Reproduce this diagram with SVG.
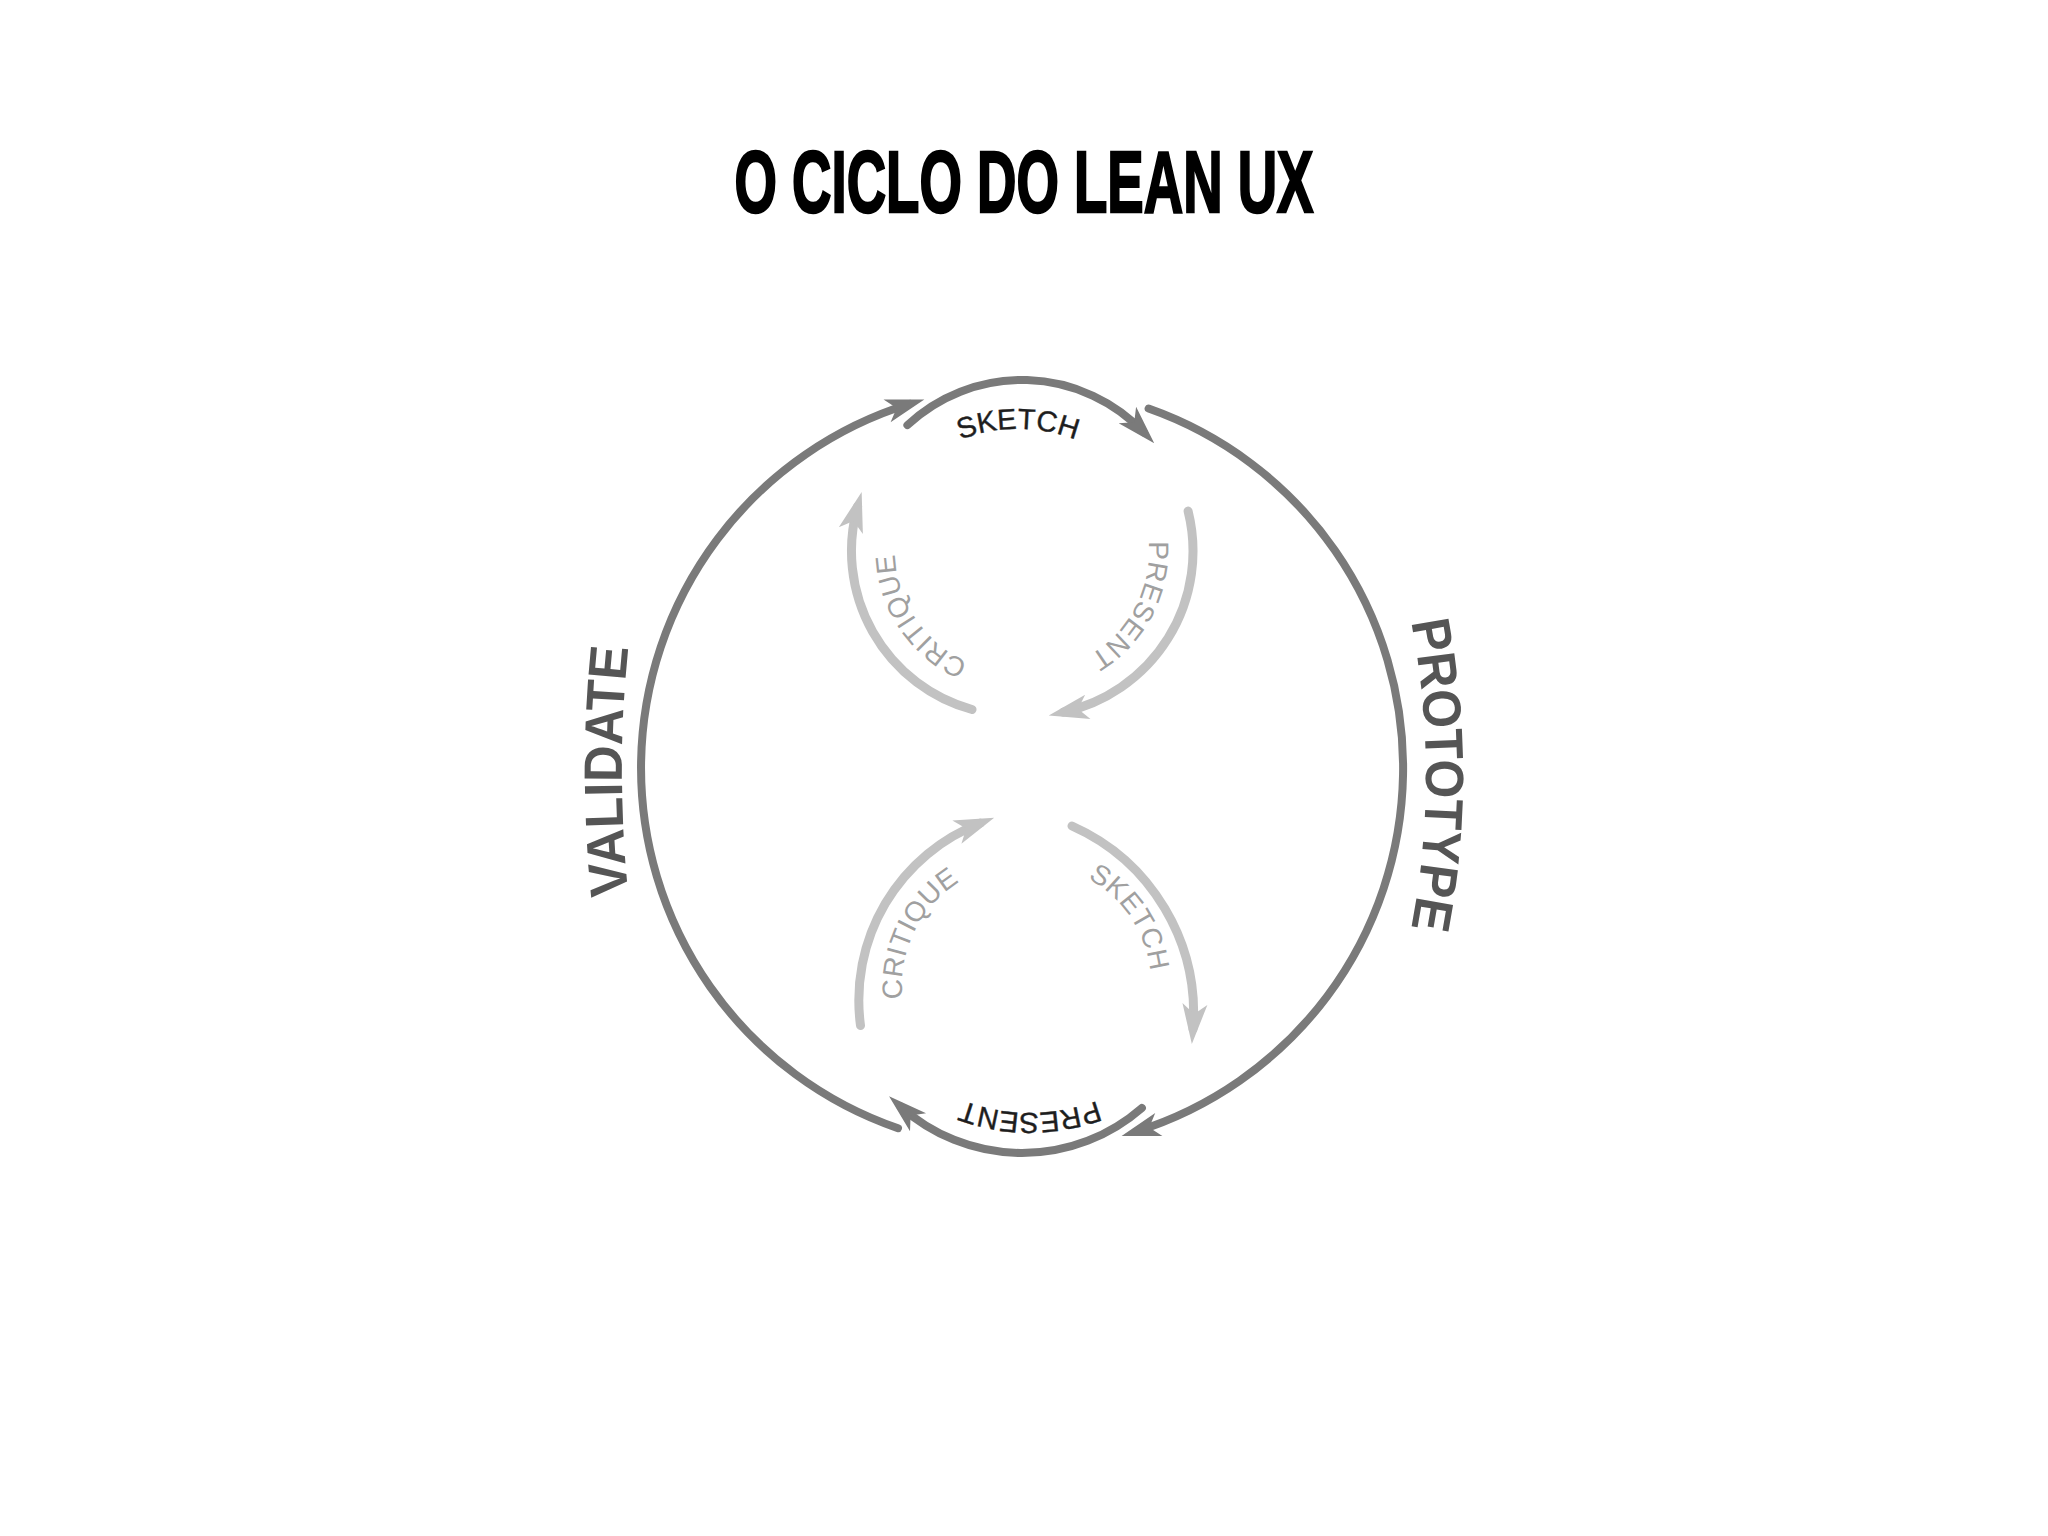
<svg xmlns="http://www.w3.org/2000/svg" width="2048" height="1536" viewBox="0 0 2048 1536">
<style>
.dark{fill:none;stroke:#7a7a7a;stroke-width:8;stroke-linecap:round}
.light{fill:none;stroke:#c2c2c2;stroke-width:9;stroke-linecap:round}
.tdark{font-family:"Liberation Sans",Arial,sans-serif;font-size:29px;fill:#1e1e1e;stroke:#1e1e1e;stroke-width:0.4}
.tlight{font-family:"Liberation Sans",Arial,sans-serif;font-size:28px;fill:#a0a0a0;letter-spacing:0.5px}
.tbig{font-family:"Liberation Sans",Arial,sans-serif;font-size:54px;font-weight:bold;fill:#555555}
.title{font-family:"Liberation Sans",Arial,sans-serif;font-size:88px;font-weight:bold;fill:#000;stroke:#000;stroke-width:2.5}
</style>
<defs>
<marker id="ad" markerUnits="userSpaceOnUse" viewBox="-30 -20 60 40" markerWidth="60" markerHeight="40" refX="0" refY="0" orient="auto" overflow="visible">
<path d="M15,0 L-24,-12 L-14,0 L-24,12 Z" fill="#7a7a7a"/>
</marker>
<marker id="al" markerUnits="userSpaceOnUse" viewBox="-30 -20 60 40" markerWidth="60" markerHeight="40" refX="0" refY="0" orient="auto" overflow="visible">
<path d="M15,0 L-25,-12.5 L-15,0 L-25,12.5 Z" fill="#c2c2c2"/>
</marker>
<path id="pSketchTop" d="M894.7,486.5 A161,161 0 0 1 1141.3,486.5"/>
<path id="pPresentBot" d="M1175.5,1045.1 A190,190 0 0 1 884.5,1045.1"/>
<path id="pPresentIn" d="M1130.2,486.2 A121,121 0 0 1 1033.1,671.9"/>
<path id="pCritiqueTop" d="M1024.4,671.7 A121,121 0 0 1 907.2,498.0"/>
<path id="pCritiqueBot" d="M922.7,1052.7 A121,121 0 0 1 1014.6,864.3"/>
<path id="pSketchIn" d="M1021.6,864.3 A121,121 0 0 1 1138.8,1038.0"/>
<path id="pValidate" d="M640.2,979.4 A1200,1200 0 0 1 640.2,562.6"/>
<path id="pPrototype" d="M1398.7,567.9 A800,800 0 0 1 1398.7,982.1"/>
</defs>
<rect width="2048" height="1536" fill="#ffffff"/>
<g id="title">
<text class="title" x="1024" y="212" text-anchor="middle" textLength="579" lengthAdjust="spacingAndGlyphs">O CICLO DO LEAN UX</text>
</g>
<g id="connectors">
<path class="dark" d="M898.0,1128.2 A381,381 0 0 1 910.0,403.8" marker-end="url(#ad)"/>
<path class="dark" d="M907.4,425.1 A168,168 0 0 1 1143.9,432.4" marker-end="url(#ad)"/>
<path class="dark" d="M1148.6,408.6 A381,381 0 0 1 1135.9,1131.6" marker-end="url(#ad)"/>
<path class="dark" d="M1141.9,1107.9 A182,182 0 0 1 900.2,1106.2" marker-end="url(#ad)"/>
<path class="light" d="M972.0,709.5 A164.5,164.5 0 0 1 857.6,506.5" marker-end="url(#al)"/>
<path class="light" d="M1188.1,511.1 A165,165 0 0 1 1063.4,712.2" marker-end="url(#al)"/>
<path class="light" d="M860.5,1025.5 A190,190 0 0 1 980.2,823.1" marker-end="url(#al)"/>
<path class="light" d="M1072,826 A205,205 0 0 1 1193,1029" marker-end="url(#al)"/>
</g>
<g id="validate"><text class="tbig"><textPath href="#pValidate" startOffset="50%" text-anchor="middle" textLength="248" lengthAdjust="spacingAndGlyphs">VALIDATE</textPath></text></g>
<g id="prototype"><text class="tbig"><textPath href="#pPrototype" startOffset="50%" text-anchor="middle" textLength="308" lengthAdjust="spacingAndGlyphs">PROTOTYPE</textPath></text></g>
<g id="sketch-outer"><text class="tdark"><textPath href="#pSketchTop" startOffset="50%" text-anchor="middle">SKETCH</textPath></text></g>
<g id="present-outer"><text class="tdark"><textPath href="#pPresentBot" startOffset="50%" text-anchor="middle">PRESENT</textPath></text></g>
<g id="present-inner"><text class="tlight"><textPath href="#pPresentIn" startOffset="50%" text-anchor="middle">PRESENT</textPath></text></g>
<g id="critique-top"><text class="tlight"><textPath href="#pCritiqueTop" startOffset="50%" text-anchor="middle">CRITIQUE</textPath></text></g>
<g id="critique-bottom"><text class="tlight"><textPath href="#pCritiqueBot" startOffset="50%" text-anchor="middle">CRITIQUE</textPath></text></g>
<g id="sketch-inner"><text class="tlight"><textPath href="#pSketchIn" startOffset="50%" text-anchor="middle">SKETCH</textPath></text></g>
</svg>
